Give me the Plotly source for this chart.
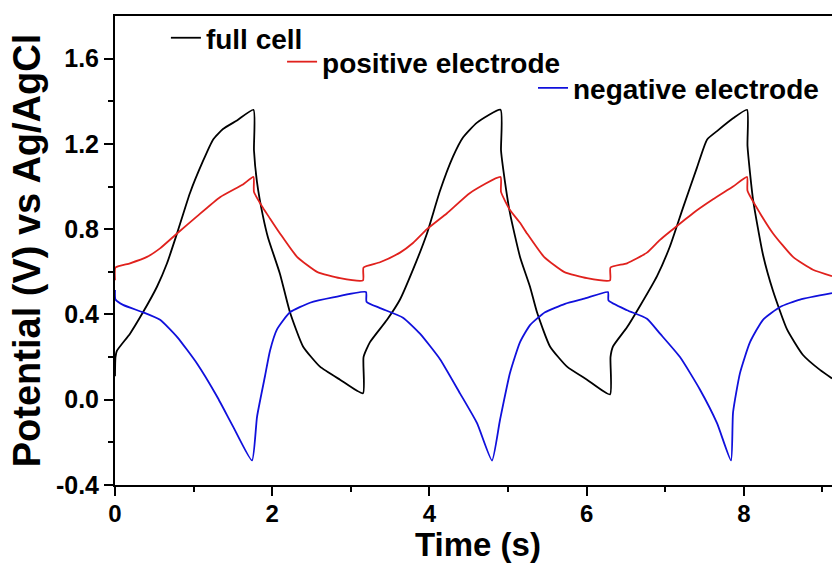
import plotly.graph_objects as go

# ---------------- data (time in s, potential in V) ----------------
full_t = [0.000, 0.006, 0.025, 0.191, 0.356, 0.534, 0.662, 0.789, 0.954, 1.120,
          1.247, 1.374, 1.552, 1.762, 1.768, 1.807, 1.883, 1.947, 2.099, 2.226,
          2.392, 2.608, 2.863, 3.155, 3.162, 3.244, 3.461, 3.626, 3.791, 3.969,
          4.135, 4.300, 4.427, 4.606, 4.905, 4.911, 4.936, 5.025, 5.153, 5.280,
          5.369, 5.534, 5.751, 6.005, 6.298, 6.304, 6.336, 6.514, 6.679, 6.896,
          7.061, 7.226, 7.405, 7.532, 7.659, 7.863, 8.041, 8.047, 8.117, 8.244,
          8.372, 8.550, 8.753, 8.969, 9.122]
full_v = [0.11, 0.20, 0.23, 0.31, 0.41, 0.53, 0.64, 0.78, 0.97, 1.12,
          1.22, 1.27, 1.31, 1.36, 1.17, 1.02, 0.86, 0.76, 0.59, 0.41,
          0.25, 0.155, 0.094, 0.03, 0.20, 0.27, 0.375, 0.47, 0.61, 0.78,
          0.98, 1.14, 1.23, 1.30, 1.36, 1.17, 1.09, 0.875, 0.67, 0.53,
          0.41, 0.25, 0.155, 0.094, 0.025, 0.20, 0.25, 0.34, 0.44, 0.58,
          0.72, 0.90, 1.09, 1.22, 1.26, 1.32, 1.36, 1.19, 0.94, 0.68,
          0.51, 0.33, 0.21, 0.14, 0.10]

pos_t = [0.000, 0.006, 0.191, 0.407, 0.573, 0.789, 1.043, 1.336, 1.628, 1.762,
         1.768, 1.883, 1.972, 2.099, 2.316, 2.570, 2.863, 3.155, 3.162, 3.372,
         3.626, 3.791, 3.969, 4.224, 4.517, 4.905, 4.911, 5.025, 5.153, 5.242,
         5.458, 5.712, 6.005, 6.298, 6.304, 6.514, 6.768, 6.934, 7.099, 7.354,
         7.608, 7.863, 8.041, 8.047, 8.206, 8.372, 8.626, 8.880, 9.122]
pos_v = [0.56, 0.62, 0.64, 0.67, 0.71, 0.78, 0.86, 0.95, 1.01, 1.045,
         0.975, 0.90, 0.85, 0.78, 0.67, 0.60, 0.57, 0.56, 0.62, 0.645,
         0.69, 0.735, 0.80, 0.875, 0.97, 1.045, 0.975, 0.89, 0.83, 0.78,
         0.67, 0.60, 0.57, 0.56, 0.62, 0.64, 0.69, 0.75, 0.80, 0.875,
         0.94, 1.00, 1.045, 0.98, 0.875, 0.78, 0.67, 0.61, 0.58]

neg_t = [0.000, 0.006, 0.102, 0.356, 0.573, 0.789, 1.043, 1.298, 1.501, 1.743,
         1.807, 1.908, 1.972, 2.061, 2.226, 2.481, 2.774, 3.193, 3.200, 3.372,
         3.664, 3.880, 4.135, 4.389, 4.606, 4.796, 4.898, 5.025, 5.153, 5.280,
         5.471, 5.725, 5.980, 6.272, 6.279, 6.514, 6.768, 6.934, 7.188, 7.443,
         7.659, 7.837, 7.863, 7.952, 8.079, 8.244, 8.461, 8.715, 9.122]
neg_v = [0.515, 0.47, 0.445, 0.41, 0.375, 0.295, 0.17, 0.015, -0.125, -0.285,
         -0.08, 0.11, 0.23, 0.33, 0.41, 0.455, 0.48, 0.505, 0.46, 0.43,
         0.385, 0.31, 0.19, 0.03, -0.11, -0.285, -0.095, 0.125, 0.27, 0.35,
         0.41, 0.45, 0.475, 0.505, 0.465, 0.42, 0.38, 0.31, 0.20, 0.047,
         -0.11, -0.285, -0.06, 0.126, 0.27, 0.375, 0.435, 0.47, 0.50]

x_tickvals = [0, 2, 4, 6, 8]
x_ticktext = ["0", "2", "4", "6", "8"]
x_minorvals = [1, 3, 5, 7, 9]
y_tickvals = [-0.4, 0.0, 0.4, 0.8, 1.2, 1.6]
y_ticktext = ["-0.4", "0.0", "0.4", "0.8", "1.2", "1.6"]
y_minorvals = [-0.2, 0.2, 0.6, 1.0, 1.4]

FONT = "Liberation Sans, Arial, sans-serif"
LW = 1.8

fig = go.Figure()
fig.add_trace(go.Scatter(x=full_t, y=full_v, mode="lines", name="full cell",
                         line=dict(color="#000000", width=LW, shape="spline", smoothing=0.5),
                         legend="legend", showlegend=True))
fig.add_trace(go.Scatter(x=pos_t, y=pos_v, mode="lines", name="positive electrode",
                         line=dict(color="#e0211d", width=LW, shape="spline", smoothing=0.5),
                         legend="legend2", showlegend=True))
fig.add_trace(go.Scatter(x=neg_t, y=neg_v, mode="lines", name="negative electrode",
                         line=dict(color="#1010dc", width=LW, shape="spline", smoothing=0.5),
                         legend="legend3", showlegend=True))

leg_common = dict(font=dict(family=FONT, size=28, color="black", weight="bold"),
                  bgcolor="rgba(0,0,0,0)", borderwidth=0, xanchor="left",
                  yanchor="middle", itemwidth=30)

fig.update_layout(
    width=832, height=564,
    showlegend=True,
    margin=dict(l=115, r=0, t=16, b=79),
    paper_bgcolor="white", plot_bgcolor="white",
    font=dict(family=FONT, color="black"),
    legend=dict(x=0.071, y=0.953, **leg_common),
    legend2=dict(x=0.233, y=0.902, **leg_common),
    legend3=dict(x=0.583, y=0.846, **leg_common),
    xaxis=dict(
        range=[0, 9.122], showgrid=False, zeroline=False,
        showline=True, linecolor="black", linewidth=2, mirror=True,
        ticks="outside", ticklen=9, tickwidth=2, tickcolor="black",
        tickmode="array", tickvals=x_tickvals, ticktext=x_ticktext,
        minor=dict(tickmode="array", tickvals=x_minorvals, ticks="outside",
                   ticklen=5, tickwidth=2, tickcolor="black"),
        tickfont=dict(family=FONT, size=24, color="black", weight="bold"),
        ticklabelstandoff=-3,
    ),
    yaxis=dict(
        range=[-0.4, 1.8], showgrid=False, zeroline=False,
        showline=True, linecolor="black", linewidth=2, mirror=False,
        ticks="outside", ticklen=9, tickwidth=2, tickcolor="black",
        tickmode="array", tickvals=y_tickvals, ticktext=y_ticktext,
        minor=dict(tickmode="array", tickvals=y_minorvals, ticks="outside",
                   ticklen=5, tickwidth=2, tickcolor="black"),
        tickfont=dict(family=FONT, size=25, color="black", weight="bold"),
        title=dict(text="Potential (V) vs Ag/AgCl", standoff=4,
                   font=dict(family=FONT, size=38, color="black", weight="bold")),
    ),
    annotations=[dict(
        text="Time (s)", xref="paper", yref="paper", x=0.506, y=0,
        xanchor="center", yanchor="top", yshift=-40, showarrow=False,
        borderpad=0,
        font=dict(family=FONT, size=33, color="black", weight="bold"),
    )],
)

fig.write_html("out.html")
